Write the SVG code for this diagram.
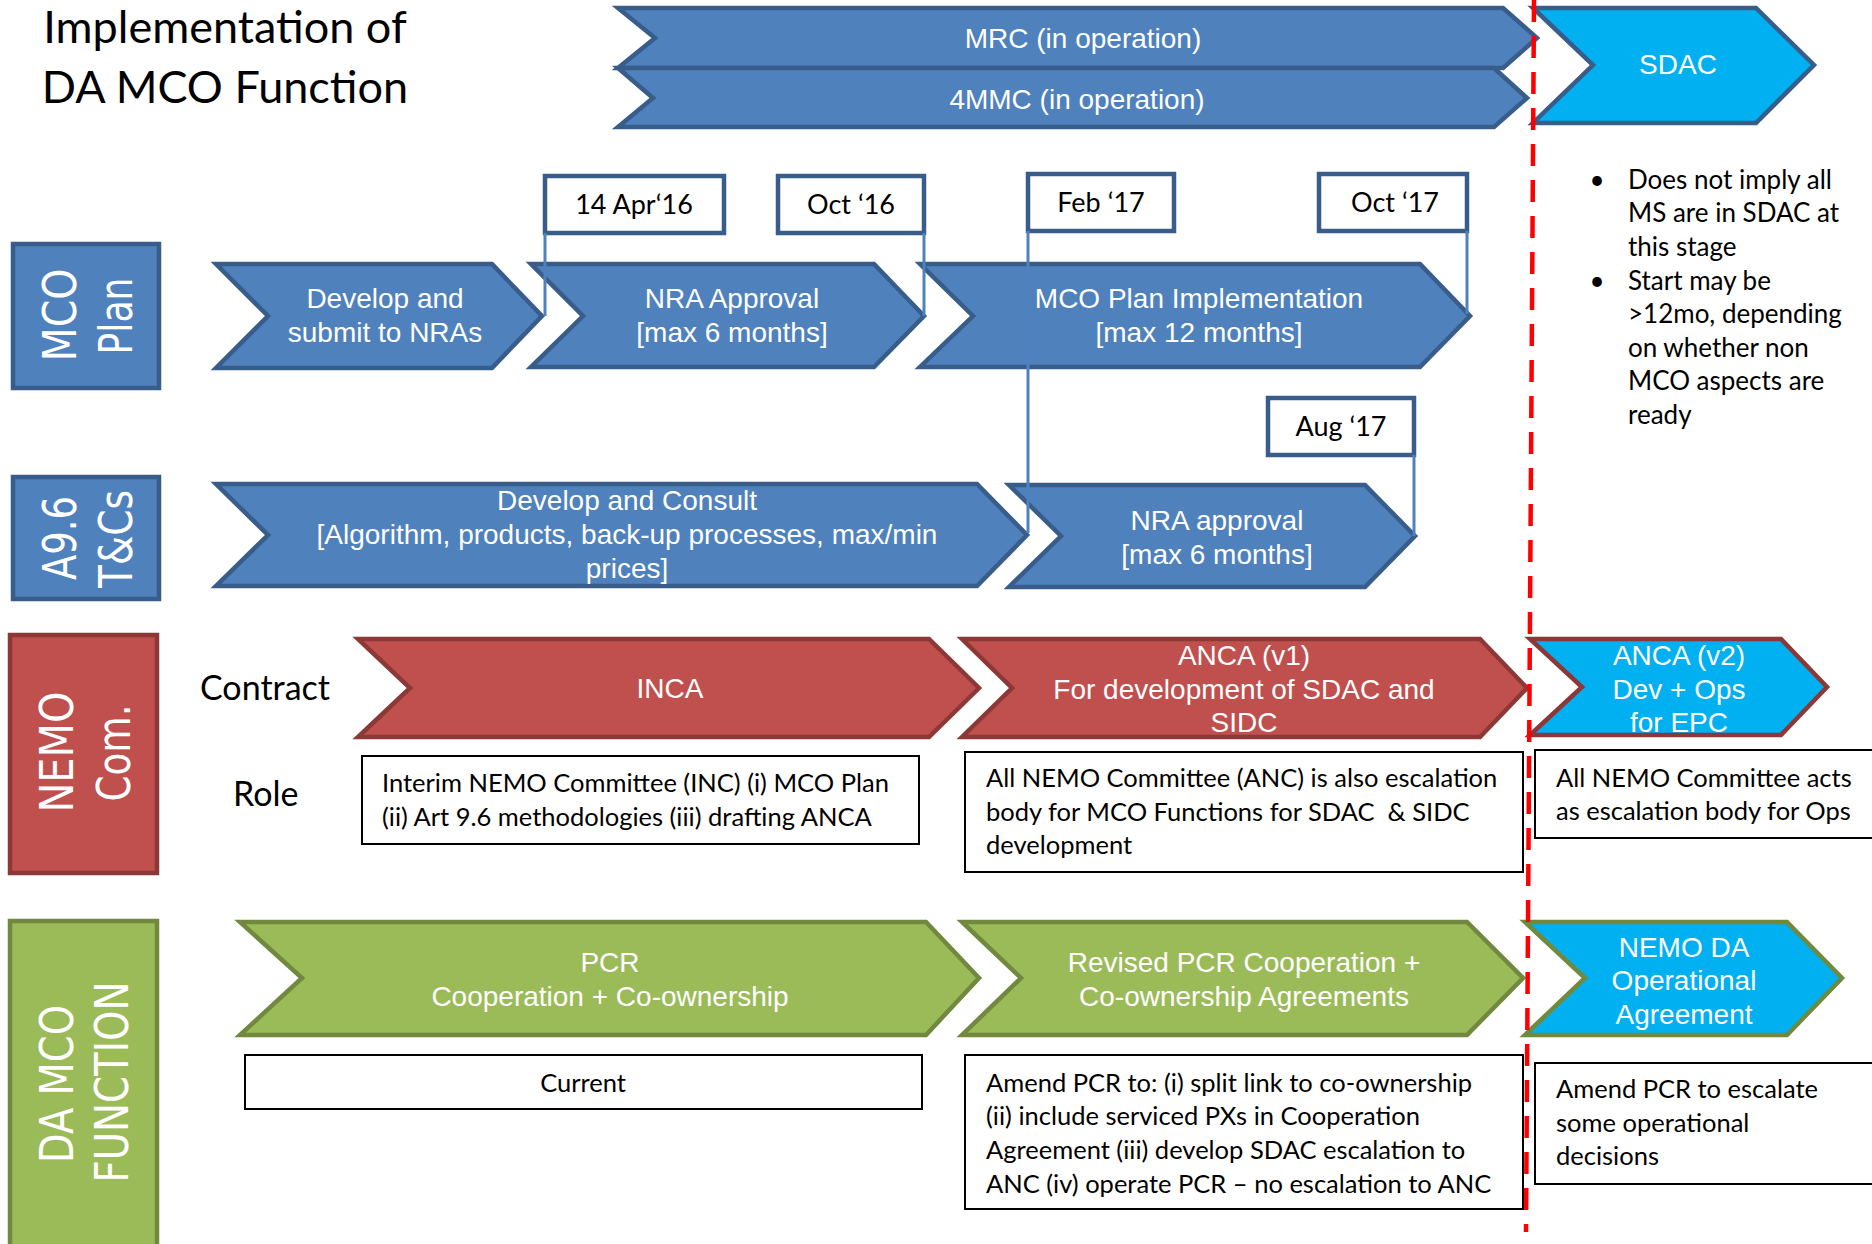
<svg xmlns="http://www.w3.org/2000/svg" width="1872" height="1244" viewBox="0 0 1872 1244">
<style>
.bl{fill:#4F81BD;stroke:#385D8A;stroke-width:4.5}
.rd{fill:#C0504D;stroke:#8C3836;stroke-width:4.5}
.gr{fill:#9BBB59;stroke:#71893F;stroke-width:4.5}
.cy-b{fill:#00B0F0;stroke:#385D8A;stroke-width:4.5}
.cy-r{fill:#00B0F0;stroke:#8C3836;stroke-width:4.5}
.cy-g{fill:#00B0F0;stroke:#71893F;stroke-width:4.5}
.date{fill:#fff;stroke:#385D8A;stroke-width:4.5}
.role{fill:#fff;stroke:#000;stroke-width:2}
.ct{font-family:"Liberation Sans",Arial,sans-serif;font-size:28px;fill:#fff;text-anchor:middle}
.bt{font-family:Lato,"Open Sans",sans-serif;font-size:25.5px;fill:#000}
.dt{font-family:Lato,"Open Sans",sans-serif;font-size:27px;fill:#000;text-anchor:middle}
.nt{font-family:Lato,"Open Sans",sans-serif;font-size:26px;fill:#000}
.lbl{font-family:"DejaVu Sans",Verdana,sans-serif;font-size:46px;fill:#fff;text-anchor:middle}
.conn{stroke:#4F81BD;stroke-width:3;fill:none}
</style>

<g id="title">
<text class="bt" style="font-size:45px" x="225" y="43" text-anchor="middle">Implementation of</text>
<text class="bt" style="font-size:45px" x="225" y="103" text-anchor="middle">DA MCO Function</text>
</g>

<!-- Row labels -->
<g id="label-mco-plan">
<rect class="bl" x="13" y="244" width="146" height="144"/>
<text class="lbl" transform="translate(76,315) rotate(-90)" textLength="93" lengthAdjust="spacingAndGlyphs">MCO</text>
<text class="lbl" transform="translate(132,316) rotate(-90)" textLength="77" lengthAdjust="spacingAndGlyphs">Plan</text>
</g>
<g id="label-a96">
<rect class="bl" x="13" y="477" width="146" height="122"/>
<text class="lbl" transform="translate(76,538) rotate(-90)" textLength="84" lengthAdjust="spacingAndGlyphs">A9.6</text>
<text class="lbl" transform="translate(132,539) rotate(-90)" textLength="98" lengthAdjust="spacingAndGlyphs">T&amp;Cs</text>
</g>
<g id="label-nemo">
<rect class="rd" x="10" y="635" width="147" height="238"/>
<text class="lbl" transform="translate(73,752) rotate(-90)" textLength="121" lengthAdjust="spacingAndGlyphs">NEMO</text>
<text class="lbl" transform="translate(130,753) rotate(-90)" textLength="97" lengthAdjust="spacingAndGlyphs">Com.</text>
</g>
<g id="label-da-mco">
<rect class="gr" x="10" y="921" width="147" height="335"/>
<text class="lbl" transform="translate(73,1084) rotate(-90)" textLength="158" lengthAdjust="spacingAndGlyphs">DA MCO</text>
<text class="lbl" transform="translate(128,1082) rotate(-90)" textLength="201" lengthAdjust="spacingAndGlyphs">FUNCTION</text>
</g>

<!-- Top chevrons -->
<g id="mrc">
<polygon class="bl" points="618,8 1503,8 1537,38 1503,68 618,68 655,38"/>
<text class="ct" x="1083" y="48">MRC (in operation)</text>
</g>
<g id="4mmc">
<polygon class="bl" points="618,68 1494,68 1527,98 1494,127 618,127 653,98"/>
<text class="ct" x="1077" y="109">4MMC (in operation)</text>
</g>
<g id="sdac">
<polygon class="cy-b" points="1533,8 1756,8 1814,65 1756,123 1533,123 1593,65"/>
<text class="ct" x="1678" y="74">SDAC</text>
</g>

<!-- MCO Plan row -->
<g id="develop-submit">
<polygon class="bl" points="216,264 492,264 542,316 492,368 216,368 268,316"/>
<text class="ct" x="385" y="308">Develop and</text>
<text class="ct" x="385" y="342">submit to NRAs</text>
</g>
<g id="nra-approval-1">
<polygon class="bl" points="531,264 874,264 924,316 874,367 531,367 583,316"/>
<text class="ct" x="732" y="308">NRA Approval</text>
<text class="ct" x="732" y="342">[max 6 months]</text>
</g>
<g id="mco-impl">
<polygon class="bl" points="920,264 1420,264 1470,316 1420,367 920,367 973,316"/>
<text class="ct" x="1199" y="308">MCO Plan Implementation</text>
<text class="ct" x="1199" y="342">[max 12 months]</text>
</g>

<!-- A9.6 row -->
<g id="develop-consult">
<polygon class="bl" points="216,484 977,484 1027,535 977,586 216,586 268,535"/>
<text class="ct" x="627" y="510">Develop and Consult</text>
<text class="ct" x="627" y="544">[Algorithm, products, back-up processes, max/min</text>
<text class="ct" x="627" y="578">prices]</text>
</g>
<g id="nra-approval-2">
<polygon class="bl" points="1009,485 1365,485 1415,536 1365,587 1009,587 1061,536"/>
<text class="ct" x="1217" y="530">NRA approval</text>
<text class="ct" x="1217" y="564">[max 6 months]</text>
</g>

<!-- Date boxes -->
<g id="date-14apr16">
<rect class="date" x="545" y="176" width="179" height="57"/>
<text class="dt" x="634" y="214">14 Apr‘16</text>
</g>
<g id="date-oct16">
<rect class="date" x="778" y="176" width="146" height="57"/>
<text class="dt" x="851" y="214">Oct ‘16</text>
</g>
<g id="date-feb17">
<rect class="date" x="1028" y="174" width="146" height="57"/>
<text class="dt" x="1101" y="212">Feb ‘17</text>
</g>
<g id="date-oct17">
<rect class="date" x="1319" y="174" width="148" height="57"/>
<text class="dt" x="1395" y="212">Oct ‘17</text>
</g>
<g id="date-aug17">
<rect class="date" x="1268" y="398" width="146" height="57"/>
<text class="dt" x="1341" y="436">Aug ‘17</text>
</g>

<!-- NEMO Com row -->
<g id="row-labels">
<text class="bt" style="font-size:34px" x="200" y="700">Contract</text>
<text class="bt" style="font-size:34px" x="233" y="806">Role</text>
</g>
<g id="inca">
<polygon class="rd" points="358,639 929,639 979,688 929,737 358,737 410,688"/>
<text class="ct" x="670" y="698">INCA</text>
</g>
<g id="anca-v1">
<polygon class="rd" points="962,639 1480,639 1527,688 1480,737 962,737 1012,688"/>
<text class="ct" x="1244" y="665">ANCA (v1)</text>
<text class="ct" x="1244" y="699">For development of SDAC and</text>
<text class="ct" x="1244" y="732">SIDC</text>
</g>
<g id="anca-v2">
<polygon class="cy-r" points="1530,639 1781,639 1827,687 1781,735 1530,735 1582,687"/>
<text class="ct" x="1679" y="665">ANCA (v2)</text>
<text class="ct" x="1679" y="699">Dev + Ops</text>
<text class="ct" x="1679" y="732">for EPC</text>
</g>
<g id="role-inc">
<rect class="role" x="362" y="756" width="557" height="88"/>
<text class="bt" x="382" y="792">Interim NEMO Committee (INC) (i) MCO Plan</text>
<text class="bt" x="382" y="826">(ii) Art 9.6 methodologies (iii) drafting ANCA</text>
</g>
<g id="role-anc">
<rect class="role" x="965" y="752" width="558" height="120"/>
<text class="bt" x="986" y="787">All NEMO Committee (ANC) is also escalation</text>
<text class="bt" x="986" y="821">body for MCO Functions for SDAC&#160; &amp; SIDC</text>
<text class="bt" x="986" y="854">development</text>
</g>
<g id="role-ops">
<rect class="role" x="1535" y="750" width="345" height="88"/>
<text class="bt" x="1556" y="787">All NEMO Committee acts</text>
<text class="bt" x="1556" y="820">as escalation body for Ops</text>
</g>

<!-- DA MCO Function row -->
<g id="pcr">
<polygon class="gr" points="240,922 926,922 979,978 926,1035 240,1035 302,978"/>
<text class="ct" x="610" y="972">PCR</text>
<text class="ct" x="610" y="1006">Cooperation + Co-ownership</text>
</g>
<g id="revised-pcr">
<polygon class="gr" points="962,922 1467,922 1523,978 1467,1035 962,1035 1021,978"/>
<text class="ct" x="1244" y="972">Revised PCR Cooperation +</text>
<text class="ct" x="1244" y="1006">Co-ownership Agreements</text>
</g>
<g id="nemo-da">
<polygon class="cy-g" points="1525,922 1787,922 1842,978 1787,1035 1525,1035 1585,978"/>
<text class="ct" x="1684" y="957">NEMO DA</text>
<text class="ct" x="1684" y="990">Operational</text>
<text class="ct" x="1684" y="1024">Agreement</text>
</g>
<g id="current">
<rect class="role" x="245" y="1055" width="677" height="54"/>
<text class="bt" x="583" y="1092" text-anchor="middle">Current</text>
</g>
<g id="amend">
<rect class="role" x="965" y="1055" width="558" height="154"/>
<text class="bt" x="986" y="1092">Amend PCR to: (i) split link to co-ownership</text>
<text class="bt" x="986" y="1125">(ii) include serviced PXs in Cooperation</text>
<text class="bt" x="986" y="1159">Agreement (iii) develop SDAC escalation to</text>
<text class="bt" x="986" y="1193">ANC (iv) operate PCR – no escalation to ANC</text>
</g>
<g id="escalate">
<rect class="role" x="1535" y="1063" width="345" height="121"/>
<text class="bt" x="1556" y="1098">Amend PCR to escalate</text>
<text class="bt" x="1556" y="1132">some operational</text>
<text class="bt" x="1556" y="1165">decisions</text>
</g>

<!-- Notes -->
<g id="notes">
<text class="nt" x="1597" y="189" text-anchor="middle">•</text>
<text class="nt" x="1597" y="290" text-anchor="middle">•</text>
<text class="nt" x="1628" y="189">Does not imply all</text>
<text class="nt" x="1628" y="222">MS are in SDAC at</text>
<text class="nt" x="1628" y="256">this stage</text>
<text class="nt" x="1628" y="290">Start may be</text>
<text class="nt" x="1628" y="323">&gt;12mo, depending</text>
<text class="nt" x="1628" y="357">on whether non</text>
<text class="nt" x="1628" y="390">MCO aspects are</text>
<text class="nt" x="1628" y="424">ready</text>
</g>

<!-- Connectors -->
<g id="connectors">
<line class="conn" x1="545" y1="233" x2="545" y2="316"/>
<line class="conn" x1="924" y1="233" x2="924" y2="316"/>
<line class="conn" x1="1028" y1="231" x2="1028" y2="533"/>
<line class="conn" x1="1467" y1="231" x2="1467" y2="314"/>
<line class="conn" x1="1414" y1="455" x2="1414" y2="536"/>
</g>

<g id="sdac-start-line">
<line x1="1534" y1="0" x2="1526" y2="1232" stroke="#FF0000" stroke-width="4.5" stroke-dasharray="22 14"/>
</g>
</svg>
